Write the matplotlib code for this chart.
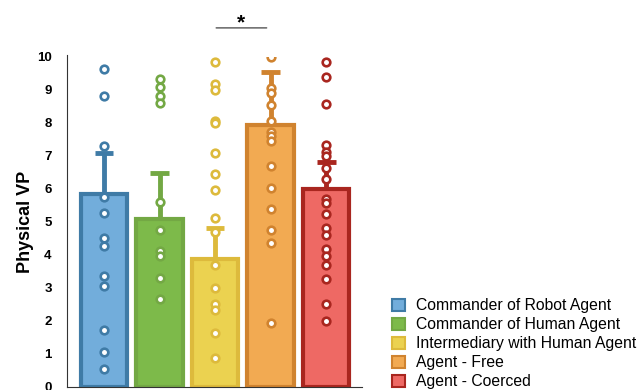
import matplotlib.pyplot as plt
from matplotlib.patches import Patch

plt.rcParams['font.family'] = ['Liberation Sans', 'DejaVu Sans']

# group means, upper error and individual ratings
groups = ['Commander of Robot Agent', 'Commander of Human Agent',
          'Intermediary with Human Agent', 'Agent - Free', 'Agent - Coerced']
means = [5.84, 5.08, 3.89, 7.93, 5.99]
err_top = [7.08, 6.47, 4.83, 9.54, 6.81]

pts_robot = [9.64, 8.81, 7.30, 5.75, 5.28, 4.50, 4.26, 3.37, 3.07, 1.73, 1.05, 0.54]
pts_human = [9.33, 9.08, 8.82, 8.60, 5.61, 4.75, 4.11, 3.98, 3.30, 2.67]
pts_inter = [9.86, 9.18, 9.01, 8.06, 8.01, 7.10, 6.44, 5.96, 5.13, 4.69,
             3.71, 3.00, 2.52, 2.34, 1.63, 0.87]
pts_free = [9.99, 9.05, 8.90, 8.54, 8.06, 7.73, 7.59, 7.46, 6.70, 6.04,
            5.40, 4.77, 4.35, 1.95]
pts_coerced = [9.86, 9.40, 8.57, 7.33, 7.12, 7.00, 6.63, 6.29, 5.70, 5.58,
               5.25, 4.82, 4.62, 4.19, 3.96, 3.71, 3.27, 2.52, 2.01]
points = [pts_robot, pts_human, pts_inter, pts_free, pts_coerced]

fills = ['#72ADDB', '#7DBA4A', '#EBD250', '#F2AA52', '#EE6964']
edges = ['#3F7BA6', '#73A844', '#DDBA3C', '#D0832F', '#A9261F']

fig = plt.figure(figsize=(6.41, 3.9), dpi=100)
ax = fig.add_axes([0.1045, 0.0077, 0.4605, 0.8463])

x = list(range(len(groups)))
for i in x:
    ax.bar(i, means[i], width=0.84, color=fills[i], edgecolor=edges[i],
           linewidth=3, zorder=2)
    ax.plot([i, i], [means[i], err_top[i]], color=edges[i], lw=3.5,
            solid_capstyle='butt', zorder=3)
    ax.plot([i - 0.17, i + 0.17], [err_top[i], err_top[i]], color=edges[i],
            lw=3.5, solid_capstyle='butt', zorder=3)
    ax.scatter([i] * len(points[i]), points[i], s=30, facecolor='white',
               edgecolor=edges[i], linewidth=1.9, zorder=4)

ax.set_xlim(-0.667, 4.65)
ax.set_ylim(0, 10)
ax.set_yticks(range(11))
ax.set_yticklabels([str(v) for v in range(11)], fontweight='bold', fontsize=9.5)
ax.tick_params(axis='y', length=0, pad=11)
ax.set_xticks([])
for s in ['top', 'right']:
    ax.spines[s].set_visible(False)
ax.spines['left'].set_color('#333333')
ax.spines['bottom'].set_color('#333333')
ax.spines['left'].set_bounds(0, 10.05)
ax.set_ylabel('Physical VP', fontweight='bold', fontsize=13, labelpad=2)

# significance bracket between intermediary and free agent
ax.annotate('', xy=(2.0 - 0.03, 10.88), xytext=(2.98, 10.88),
            xycoords='data', annotation_clip=False,
            arrowprops=dict(arrowstyle='-', color='#555555', lw=1))
ax.text(2.47, 10.75, '*', ha='center', va='bottom', fontsize=15,
        fontweight='bold', clip_on=False)

handles = [Patch(facecolor=fills[i], edgecolor=edges[i], linewidth=1.5)
           for i in x]
fig.legend(handles, groups, loc='lower left', bbox_to_anchor=(0.602, -0.014),
           frameon=False, fontsize=11.3, handlelength=0.8, handleheight=0.8,
           handletextpad=0.75, labelspacing=0.25, borderaxespad=0)

fig.savefig('out.png', dpi=100)
